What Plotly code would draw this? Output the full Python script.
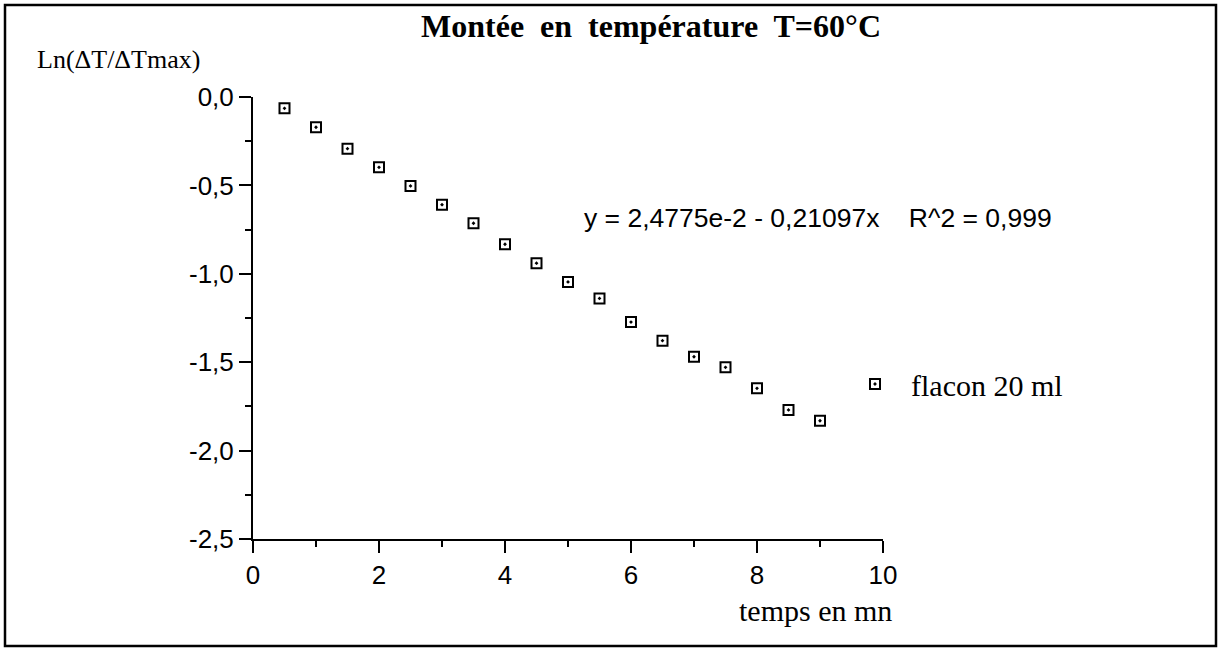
import plotly.graph_objects as go

# data
temps = [0.5, 1.0, 1.5, 2.0, 2.5, 3.0, 3.5, 4.0, 4.5, 5.0, 5.5, 6.0, 6.5, 7.0, 7.5, 8.0, 8.5, 9.0]
ln_ratio = [-0.064, -0.171, -0.292, -0.398, -0.503, -0.609, -0.714, -0.833, -0.940,
            -1.046, -1.139, -1.273, -1.378, -1.469, -1.529, -1.648, -1.770, -1.831]
x_ticks = [0, 2, 4, 6, 8, 10]
y_ticks = [0.0, -0.5, -1.0, -1.5, -2.0, -2.5]
y_ticktext = [f"{v:.1f}".replace(".", ",") for v in y_ticks]  # plain hyphen, comma decimals

W, H = 1218, 649
ml, mr, mt, mb = 253, 335, 97, 110
pw, ph = W - ml - mr, H - mt - mb

serif = "Liberation Serif"
sans = "Liberation Sans"

fig = go.Figure()
fig.add_trace(go.Scatter(x=temps, y=ln_ratio, mode="markers", name="flacon 20 ml",
                         marker=dict(symbol="square-open-dot", size=10, color="black",
                                     line=dict(width=2, color="black"))))

fig.update_layout(width=W, height=H, margin=dict(l=ml, r=mr, t=mt, b=mb, pad=0),
                  paper_bgcolor="white", plot_bgcolor="white", separators=", ",
                  font=dict(family=sans, size=23, color="black"),
                  title=dict(text="<b>Montée&nbsp; en&nbsp; température&nbsp; T=60°C</b>",
                             x=651 / W, xref="container", xanchor="center",
                             y=1 - 26 / H, yref="container", yanchor="middle",
                             font=dict(family=serif, size=32, color="black")),
                  legend=dict(x=(839 - ml) / pw, y=(H - mb - 384) / ph, itemwidth=62,
                              xanchor="left", yanchor="middle", bgcolor="rgba(0,0,0,0)",
                              font=dict(family=serif, size=30, color="black")),
                  showlegend=True)

fig.update_xaxes(range=[0, 10], tickvals=x_ticks, showgrid=False, zeroline=False,
                 showline=True, linecolor="black", linewidth=2,
                 ticks="outside", ticklen=12, tickwidth=2, tickcolor="black",
                 minor=dict(dtick=1, ticks="outside", ticklen=6, tickwidth=2, tickcolor="black", showgrid=False),
                 tickfont=dict(family=sans, size=26))
fig.update_yaxes(range=[-2.5, 0], tickvals=y_ticks, ticktext=y_ticktext, showgrid=False, zeroline=False,
                 showline=True, linecolor="black", linewidth=2,
                 ticks="outside", ticklen=12, tickwidth=2, tickcolor="black",
                 minor=dict(dtick=0.25, ticks="outside", ticklen=6, tickwidth=2, tickcolor="black", showgrid=False),
                 tickfont=dict(family=sans, size=26))

# axis titles and fit equation
fig.add_annotation(text="Ln(ΔT/ΔTmax)", xref="paper", yref="paper",
                   x=(35 - ml) / pw, y=(H - mb - 59) / ph, xanchor="left", yanchor="middle",
                   showarrow=False, font=dict(family=serif, size=26))
fig.add_annotation(text="temps en mn", xref="paper", yref="paper",
                   x=(894 - ml) / pw, y=(H - mb - 610) / ph, xanchor="right", yanchor="middle",
                   showarrow=False, font=dict(family=serif, size=30))
fig.add_annotation(text="y = 2,4775e-2 - 0,21097x&nbsp;&nbsp;&nbsp; R^2 = 0,999", xref="paper", yref="paper",
                   x=(582 - ml) / pw, y=(H - mb - 218) / ph, xanchor="left", yanchor="middle",
                   showarrow=False, font=dict(family=sans, size=26.5))

# outer frame
fig.add_shape(type="rect", xref="paper", yref="paper",
              x0=(5 - ml) / pw, x1=(1216 - ml) / pw, y0=(H - mb - 646) / ph, y1=(H - mb - 5) / ph,
              line=dict(color="black", width=2.5))

fig.write_html("out.html", config={"displayModeBar": False},
               post_script="document.body.style.margin='0';")
